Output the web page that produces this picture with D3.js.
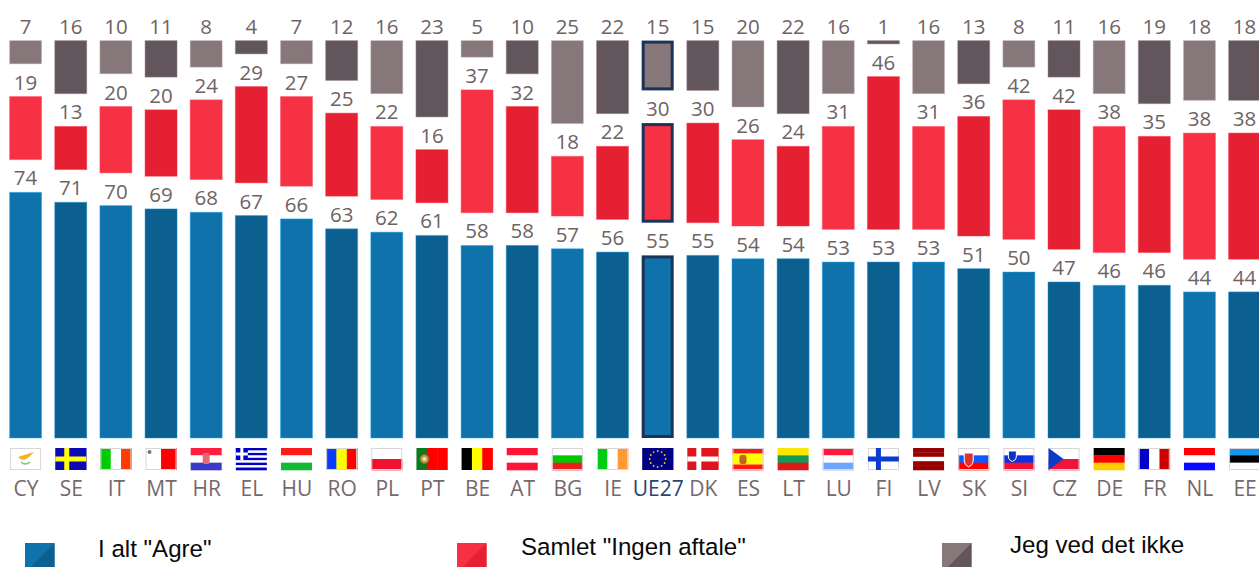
<!DOCTYPE html>
<html>
<head>
<meta charset="utf-8">
<script src="https://cdn.jsdelivr.net/npm/d3@7"></script>
<style>
  html, body { margin: 0; padding: 0; background: #fff; overflow: hidden; }
  svg { display: block; }
  .val { font-family: "Open Sans", sans-serif; font-size: 20.5px; fill: #6e6365; text-anchor: middle; }
  .axis text { font-family: "Open Sans", sans-serif; font-size: 21px; fill: #75696c; }
  .leg { font-family: "Liberation Sans", Arial, sans-serif; font-size: 24.1px; fill: #0a0a0a; }
</style>
</head>
<body>
<svg id="chart" width="1259" height="567"></svg>
<script>
const categories = ["CY","SE","IT","MT","HR","EL","HU","RO","PL","PT","BE","AT","BG","IE","UE27","DK","ES","LT","LU","FI","LV","SK","SI","CZ","DE","FR","NL","EE"];
const agree =    [74,71,70,69,68,67,66,63,62,61,58,58,57,56,55,55,54,54,53,53,53,51,50,47,46,46,44,44];
const disagree = [19,13,20,20,24,29,27,25,22,16,37,32,18,22,30,30,26,24,31,46,31,36,42,42,38,35,38,38];
const dontKnow = [7,16,10,11,8,4,7,12,16,23,5,10,25,22,15,15,20,22,16,1,16,13,8,11,16,19,18,18];
const legendLabels = ['I alt "Agre"', 'Samlet "Ingen aftale"', 'Jeg ved det ikke'];

const width = 1259, height = 567;
const baseY = 438, gap = 32.7;
const barW = 32, flagW = 31, flagH = 22, flagY = 448;

const shades = [
  ["#1072ab", "#0c6090"],
  ["#f53143", "#e42032"],
  ["#86777a", "#62565c"]
];

// stripes for the flags, symbols get added on top below
const stripes = {
  CY: ["v", "#fff"],
  SE: ["v", "#0a0ab4"],
  IT: ["v", "#00cc00", "#fff", "#ff3c00"],
  MT: ["v", "#fff", "#ff0000"],
  HR: ["h", "#ff1f3d", "#fff", "#3a3ac8"],
  EL: ["h", "#0000c8", "#fff", "#0000c8", "#fff", "#0000c8", "#fff", "#0000c8", "#fff", "#0000c8"],
  HU: ["h", "#ff1a1a", "#fff", "#11bb33"],
  RO: ["v", "#0a3cff", "#ffff00", "#ff0000"],
  PL: ["h", "#fff", "#f01030"],
  PT: ["v", "#0a7a1e", "#ff0000", "#ff0000"],
  BE: ["v", "#000", "#ffff00", "#ff0000"],
  AT: ["h", "#ff1438", "#fff", "#ff1438"],
  BG: ["h", "#fff", "#00c800", "#e8201c"],
  IE: ["v", "#00cc11", "#fff", "#ff9933"],
  UE27: ["v", "#000080"],
  DK: ["v", "#e0141c"],
  ES: ["h", "#ff1a1a", "#ffff00", "#ffff00", "#ff1a1a"],
  LT: ["h", "#ffe600", "#119955", "#dd1a1a"],
  LU: ["h", "#ff1a3c", "#fff", "#70a5ff"],
  FI: ["v", "#fff"],
  LV: ["h", "#960000", "#960000", "#fff", "#960000", "#960000"],
  SK: ["h", "#fff", "#0a5aff", "#ff0000"],
  SI: ["h", "#fff", "#0a32e0", "#f01030"],
  CZ: ["h", "#fff", "#f01438"],
  DE: ["h", "#000", "#ff0000", "#ffcc00"],
  FR: ["v", "#0000c8", "#fff", "#cc0000"],
  NL: ["h", "#ff0000", "#fff", "#0a0aff"],
  EE: ["h", "#1496f0", "#000", "#fff"]
};
const bordered = ["CY","IT","MT","RO","PL","BG","IE","ES","LU","FI","SK","SI","CZ","FR","EE"];

const svg = d3.select("#chart");

const x = d3.scalePoint().domain(categories).range([25.6, 1244.6]);
const h = d3.scaleLinear().domain([0, 100]).range([0, 332]);

const rows = categories.map((c, i) => ({ c, i, vals: [agree[i], disagree[i], dontKnow[i]] }));

// stacked from the bottom, with a fixed gap between the three blocks
[0, 1, 2].forEach(s => {
  const g = svg.append("g");
  rows.forEach(r => {
    const below = d3.sum(r.vals.slice(0, s));
    const y1 = baseY - h(below) - s * gap;
    const y0 = y1 - h(r.vals[s]);
    const isEU = r.c === "UE27";
    g.append("rect")
      .attr("x", x(r.c) - barW / 2 + (isEU ? 1.5 : 0))
      .attr("y", y0 + (isEU ? 1.5 : 0))
      .attr("width", barW - (isEU ? 3 : 0))
      .attr("height", y1 - y0 - (isEU ? 3 : 0))
      .attr("fill", shades[s][r.i % 2])
      .attr("stroke", isEU ? "#1c3258" : d3.color(shades[s][r.i % 2]).brighter(1.2))
      .attr("stroke-opacity", isEU ? 1 : 0.45)
      .attr("stroke-width", isEU ? 3 : 1);
    g.append("text")
      .attr("class", "val")
      .attr("x", x(r.c))
      .attr("y", y0 - 7)
      .text(r.vals[s]);
  });
});

// flags
const flags = svg.selectAll("g.flag").data(categories).join("g")
  .attr("class", "flag")
  .attr("transform", d => `translate(${x(d) - flagW / 2},${flagY})`);

flags.each(function (d) {
  const f = d3.select(this);
  const dir = stripes[d][0], cols = stripes[d].slice(1);
  const band = d3.scaleBand().domain(d3.range(cols.length)).range([0, dir === "h" ? flagH : flagW]);
  cols.forEach((col, i) => {
    f.append("rect")
      .attr("x", dir === "v" ? band(i) : 0)
      .attr("y", dir === "h" ? band(i) : 0)
      .attr("width", dir === "v" ? band.bandwidth() + 0.3 : flagW)
      .attr("height", dir === "h" ? band.bandwidth() + 0.3 : flagH)
      .attr("fill", col);
  });
  if (bordered.includes(d)) {
    f.append("rect").attr("x", 0.5).attr("y", 0.5).attr("width", flagW - 1).attr("height", flagH - 1)
      .attr("fill", "none").attr("stroke", "#ddd5d5");
  }
});

function flagOf(code) {
  return flags.filter(d => d === code);
}
function cross(code, col, cx) {
  const f = flagOf(code);
  f.append("rect").attr("x", cx).attr("y", 0).attr("width", 5).attr("height", flagH).attr("fill", col);
  f.append("rect").attr("x", 0).attr("y", 8.5).attr("width", flagW).attr("height", 5).attr("fill", col);
}
cross("SE", "#ffff00", 9);
cross("DK", "#fff", 9);
cross("FI", "#0a3cd2", 8);

// small emblems
flagOf("CY").append("path").attr("d", "M8 9 L14 7 L24 4 L19 9 L14 12 L10 11 Z").attr("fill", "#f5b324");
flagOf("CY").append("path").attr("d", "M11 14 Q15 18 20 14").attr("fill", "none").attr("stroke", "#7ccb6a").attr("stroke-width", 1.5);
flagOf("MT").append("circle").attr("cx", 4).attr("cy", 4).attr("r", 2).attr("fill", "#777");
flagOf("HR").append("rect").attr("x", 12).attr("y", 5).attr("width", 7).attr("height", 11).attr("rx", 2).attr("fill", "#e86a7a");
flagOf("EL").append("rect").attr("width", 12).attr("height", 12).attr("fill", "#0000c8");
flagOf("EL").append("rect").attr("x", 4.5).attr("width", 3).attr("height", 12).attr("fill", "#fff");
flagOf("EL").append("rect").attr("y", 4.5).attr("width", 12).attr("height", 3).attr("fill", "#fff");
flagOf("PT").append("circle").attr("cx", 8).attr("cy", 11).attr("r", 4.5).attr("fill", "#b8a040").attr("stroke", "#7a6a20");
flagOf("PT").append("circle").attr("cx", 8).attr("cy", 11).attr("r", 2).attr("fill", "#e8e0d0");
flagOf("ES").append("rect").attr("x", 7).attr("y", 7).attr("width", 7).attr("height", 9).attr("rx", 2).attr("fill", "#c8601e");
flagOf("SK").append("path").attr("d", "M6 5 H15 V13 Q15 17 10.5 19 Q6 17 6 13 Z").attr("fill", "#e03030").attr("stroke", "#fff");
flagOf("SI").append("path").attr("d", "M5 3 H13 V9 Q13 12 9 13.5 Q5 12 5 9 Z").attr("fill", "#0a32c8").attr("stroke", "#fff");
flagOf("CZ").append("path").attr("d", `M0 0 L15 ${flagH / 2} L0 ${flagH} Z`).attr("fill", "#0a3cc8");
const stars = d3.range(12).map(i => i * 30);
flagOf("UE27").selectAll("circle").data(stars).join("circle")
  .attr("cx", a => flagW / 2 + 8 * Math.sin(a * Math.PI / 180))
  .attr("cy", a => flagH / 2 - 8 * Math.cos(a * Math.PI / 180))
  .attr("r", 0.9).attr("fill", "#e8d020");

// country codes
const axis = svg.append("g").attr("class", "axis")
  .attr("transform", `translate(0,${flagY + flagH})`)
  .call(d3.axisBottom(x).tickSize(0).tickPadding(11));
axis.select(".domain").remove();
axis.selectAll("text").style("fill", d => d === "UE27" ? "#2a4570" : null);

// legend, runs off the bottom of the page like the reference
const legendX = [25, 457, 942], legendTextX = [98, 521, 1010], legendTextY = [557, 555, 553];
legendLabels.forEach((t, i) => {
  const g = svg.append("g").attr("transform", `translate(${legendX[i]},543)`);
  g.append("rect").attr("width", 29.5).attr("height", 30).attr("fill", shades[i][0]);
  g.append("path").attr("d", "M29.5 0 V30 H0 Z").attr("fill", shades[i][1]);
  svg.append("text").attr("class", "leg").attr("x", legendTextX[i]).attr("y", legendTextY[i]).text(t);
});
</script>
</body>
</html>
